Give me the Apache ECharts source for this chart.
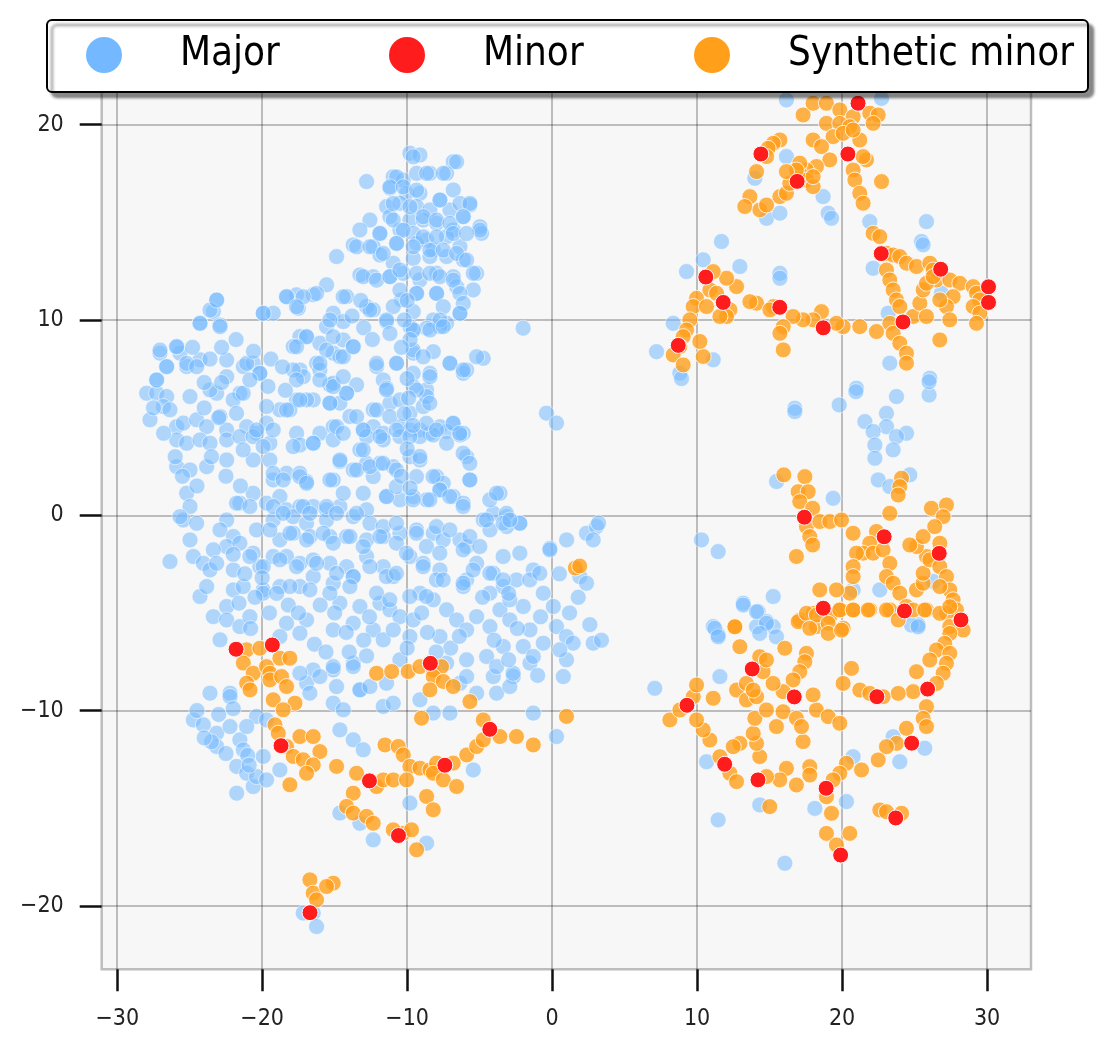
<!DOCTYPE html>
<html>
<head>
<meta charset="utf-8">
<script src="https://cdn.jsdelivr.net/npm/echarts@6/dist/echarts.min.js"></script>
<style>
  html, body { margin: 0; padding: 0; background: #fff; }
  #chart { width: 1108px; height: 1050px; }
</style>
</head>
<body>
<div id="chart"></div>
<script>
/** 类别名称 */
let seriesNames = ['Major', 'Minor', 'Synthetic minor'];
/** 图例颜色 */
let seriesColors = ['#74b9ff', '#ff1c1c', '#ff9f1a'];
/** 刻度 */
let xTicks = [-30, -20, -10, 0, 10, 20, 30];
let yTicks = [-20, -10, 0, 10, 20];

/** Major 点 */
let majorPts = [
  [-9.81,18.54],[-9.12,18.45],[-6.82,18.11],[-12.80,17.09],[-10.96,17.34],[-10.27,17.17],[-9.35,17.51],[-8.43,17.51],[-7.28,17.51],
  [-11.19,16.75],[-10.04,16.49],[-9.12,16.49],[-7.74,16.15],[-6.82,16.66],[-5.67,15.89],[-11.42,15.81],[-10.50,15.98],[-9.35,15.81],
  [-8.43,15.64],[-7.05,15.64],[-6.13,15.30],[-12.57,15.12],[-11.19,15.30],[-9.81,15.12],[-8.89,15.12],[-7.97,14.95],[-6.82,14.61],
  [-4.98,14.78],[-4.87,14.44],[-13.26,14.61],[-11.88,14.44],[-10.50,14.61],[-9.58,14.44],[-8.66,14.10],[-7.28,14.27],[-6.36,13.76],
  [-13.72,13.84],[-12.34,13.76],[-10.73,13.93],[-9.35,13.93],[-8.20,13.59],[-7.28,13.25],[-6.13,13.08],[-14.87,13.25],[-11.88,13.33],
  [-10.96,12.91],[-9.58,13.16],[-8.43,13.25],[-13.26,12.31],[-12.34,12.22],[-11.19,12.22],[-10.27,12.39],[-9.12,12.05],[-7.97,12.39],
  [-6.82,12.22],[-5.21,12.39],[-5.44,11.54],[-6.59,11.71],[-7.97,11.37],[-9.35,11.37],[-10.39,11.03],[-10.96,10.69],[-12.80,10.69],
  [-12.34,10.52],[-14.18,11.20],[-15.56,11.80],[-16.48,11.29],[-17.63,11.29],[-18.32,11.20],[-17.51,10.60],[-19.93,10.35],[-19.24,10.35],
  [-23.14,11.03],[-23.37,10.43],[-24.29,9.83],[-22.91,9.75],[-8.20,10.00],[-7.28,9.83],[-6.36,10.35],[-11.42,9.92],[-9.58,10.43],
  [-9.58,9.49],[-8.66,9.58],[-7.74,9.66],[-2.00,9.58],[-15.10,10.35],[-14.41,9.92],[-15.56,9.66],[-17.40,9.15],[-16.94,9.15],
  [-17.86,8.64],[-16.02,8.81],[-15.10,8.30],[-14.64,8.13],[-14.41,8.98],[-13.72,8.64],[-16.25,7.79],[-16.02,7.44],[-17.40,7.44],
  [-17.17,7.10],[-17.86,7.44],[-12.11,7.62],[-10.73,7.79],[-9.58,8.30],[-8.20,8.38],[-9.58,7.27],[-8.43,7.27],[-8.66,6.42],
  [-7.05,7.79],[-6.13,7.27],[-5.90,7.44],[-4.75,8.04],[-15.33,6.68],[-15.10,6.76],[-13.49,6.68],[-14.18,6.25],[-15.33,5.74],
  [-14.64,5.74],[-16.48,5.91],[-17.63,5.91],[-16.94,5.91],[-18.78,5.40],[-19.70,5.57],[-18.09,5.40],[-12.34,5.40],[-11.19,5.74],
  [-10.50,5.91],[-9.81,5.23],[-8.89,5.57],[-8.66,6.08],[-6.82,4.72],[-6.13,4.20],[-9.58,6.59],[-11.65,6.93],[-11.42,6.51],
  [-21.54,6.25],[-22.45,7.10],[-21.30,7.62],[-20.62,7.79],[-20.16,7.27],[-22.00,5.91],[-23.14,6.25],[-24.29,7.96],[-23.60,6.42],
  [-25.21,7.62],[-25.67,8.30],[-25.90,8.64],[-27.05,8.30],[-26.59,7.62],[-27.28,6.93],[-27.97,6.25],[-27.28,6.25],[-26.59,6.08],
  [-27.74,4.89],[-26.82,5.57],[-26.36,5.40],[-25.90,4.54],[-25.44,4.72],[-24.98,6.08],[-24.52,4.89],[-23.83,4.54],[-22.91,5.06],
  [-22.45,4.37],[-21.07,4.54],[-20.38,4.20],[-19.70,4.72],[-17.63,4.20],[-16.02,4.20],[-15.10,4.54],[-13.95,5.06],[-13.03,4.37],
  [-12.34,4.54],[-11.65,4.20],[-10.50,4.54],[-9.81,4.37],[-9.12,4.37],[-8.43,4.20],[-7.74,4.54],[-7.28,4.29],[-0.39,5.23],[0.30,4.72],
  [-25.90,3.86],[-25.21,3.69],[-24.29,3.86],[-23.60,3.69],[-22.45,3.86],[-21.54,4.03],[-20.62,4.03],[-19.47,3.69],[-17.40,3.60],
  [-16.48,3.69],[-15.10,3.86],[-12.80,4.03],[-11.65,3.86],[-10.50,4.03],[-9.12,4.03],[-8.20,4.11],[-7.28,3.69],[-6.36,4.11],
  [-25.90,2.49],[-24.98,2.32],[-23.83,2.49],[-22.45,2.83],[-20.62,2.83],[-19.47,2.83],[-14.64,2.75],[-13.26,3.35],[-12.80,2.66],
  [-11.88,2.66],[-10.96,2.49],[-9.81,3.00],[-9.12,2.83],[-7.97,1.98],[-7.51,1.64],[-5.90,3.00],[-5.67,1.81],[-19.24,1.81],
  [-18.32,2.15],[-17.40,2.15],[-16.94,1.73],[-15.10,1.81],[-13.72,2.32],[-12.34,1.98],[-11.42,0.96],[-10.50,0.79],[-9.58,0.96],
  [-8.66,0.79],[-7.74,1.30],[-6.82,0.96],[-6.13,0.62],[-3.60,1.13],[-2.23,-0.41],[-3.14,-0.07],[-4.06,0.10],[-4.75,-0.24],
  [-25.21,1.13],[-24.98,0.45],[-25.44,-0.24],[-24.52,-0.41],[-25.67,-0.07],[-21.54,0.62],[-20.62,1.13],[-19.70,0.62],[-18.78,0.96],
  [-18.32,0.28],[-17.40,0.45],[-16.48,0.45],[-15.56,0.28],[-14.64,0.45],[-13.72,-0.07],[-12.80,0.28],[-19.24,-0.24],[-17.86,-0.07],
  [-16.94,-0.41],[-15.56,-0.24],[-22.45,-0.24],[-22.91,-0.75],[-21.99,-1.09],[-22.45,-1.60],[-23.37,-1.77],[-24.98,-1.26],[-24.75,-2.11],
  [-24.06,-2.46],[-23.60,-2.80],[-23.14,-2.46],[-21.99,-2.80],[-26.36,-2.37],[-24.29,-4.16],[-23.83,-3.65],[-22.45,-4.67],[-21.99,-3.82],
  [-23.37,-5.19],[-22.45,-5.36],[-21.54,-5.70],[-22.91,-6.38],[-20.85,-5.19],[-20.39,-0.75],[-20.62,-1.94],[-20.16,-2.63],[-19.93,-3.82],
  [-18.78,-1.26],[-17.86,-0.92],[-16.71,-1.09],[-15.33,-1.09],[-14.18,-1.09],[-12.80,-1.26],[-11.65,-1.09],[-10.50,-0.92],[-9.35,-0.75],
  [-8.20,-0.92],[-7.51,-1.26],[-6.36,-1.26],[-5.90,-1.60],[-4.29,-0.75],[-3.14,-0.58],[-19.24,-2.11],[-18.32,-2.11],[-17.40,-2.46],
  [-16.48,-2.29],[-15.33,-2.46],[-14.18,-2.63],[-13.72,-3.14],[-12.80,-2.11],[-11.65,-2.63],[-10.96,-3.14],[-9.81,-2.11],[-8.89,-2.46],
  [-7.74,-2.80],[-5.90,-3.31],[-5.21,-2.46],[-4.06,-2.97],[-3.37,-3.65],[-2.46,-3.31],[-1.30,-2.80],[-0.15,-1.69],[1.00,-1.26],
  [2.37,-0.92],[3.06,-0.58],[2.83,-1.26],[1.91,-3.14],[2.37,-3.48],[-18.78,-3.65],[-17.40,-3.65],[-16.48,-3.14],[-15.10,-3.48],
  [-14.64,-4.50],[-13.26,-4.67],[-13.72,-5.53],[-15.10,-5.87],[-16.94,-5.36],[-18.32,-5.53],[-18.78,-6.21],[-17.40,-6.04],[-11.88,-4.50],
  [-11.19,-4.84],[-10.50,-5.19],[-12.34,-5.87],[-11.65,-6.38],[-10.96,-5.87],[-9.81,-6.21],[-9.12,-3.99],[-9.58,-5.36],[-8.20,-4.33],
  [-7.28,-4.84],[-6.59,-5.36],[-7.74,-6.21],[-6.13,-3.65],[-5.90,-5.87],[-5.21,-5.19],[-4.29,-5.70],[-3.60,-4.84],[-2.92,-5.36],
  [-1.99,-4.67],[-1.53,-5.87],[-0.61,-6.55],[-1.99,-6.72],[-3.37,-6.72],[-4.52,-7.23],[-5.90,-7.40],[-7.28,-7.57],[0.30,-5.70],
  [0.99,-6.21],[1.45,-6.55],[0.08,-4.67],[-0.61,-3.99],[2.83,-6.55],[0.77,-8.26],[-2.68,-8.26],[-4.06,-8.26],[-1.53,-7.57],
  [-16.48,-7.92],[-15.10,-7.92],[-13.72,-7.57],[-10.50,-7.40],[-11.42,-8.60],[-13.26,-8.94],[-14.87,-8.77],[-16.94,-8.60],[-23.60,-9.11],
  [-22.22,-9.11],[-22.22,-9.28],[-24.75,-10.48],[-24.06,-10.73],[-23.14,-11.16],[-23.14,-11.84],[-22.22,-10.82],[-21.54,-11.50],[-21.30,-12.01],
  [-21.76,-12.86],[-21.07,-13.21],[-21.76,-14.23],[-20.62,-13.89],[-20.39,-13.38],[-19.93,-12.35],[-19.70,-13.55],[-20.39,-10.30],[-21.07,-10.82],
  [-19.70,-10.48],[-18.78,-13.04],[-16.71,-9.11],[-17.40,-8.09],[-16.02,-8.26],[-15.10,-7.75],[-15.10,-9.62],[-14.41,-9.96],[-13.72,-7.75],
  [-13.26,-8.94],[-12.57,-8.77],[-11.65,-9.79],[-10.96,-9.62],[-14.64,-10.99],[-13.72,-11.50],[-13.03,-12.01],[-14.64,-15.25],[-13.26,-15.77],
  [-12.34,-16.62],[-9.81,-14.74],[-8.66,-16.79],[-9.12,-9.45],[-8.20,-10.13],[-7.05,-10.13],[-6.36,-8.60],[-5.90,-8.26],[-5.21,-9.11],
  [-3.83,-9.11],[-2.92,-8.77],[-2.69,-8.09],[-3.83,-7.75],[-1.30,-10.13],[0.30,-11.33],[0.99,-7.40],[0.53,-6.89],[-1.30,-7.23],
  [-5.44,-13.04],[-16.48,-20.37],[-16.25,-21.06],[-17.17,-20.37],[-24.5,-10.0],[-23.0,-10.2],[-22.0,-9.9],[-23.5,-11.6],[-24.0,-11.4],
  [-22.5,-12.2],[-21.0,-12.3],[-20.9,-12.8],
  // 中心密集区补充
  [-21.31,6.25],[-21.77,5.22],[-20.39,4.37],[-19.24,4.37],[-18.32,5.39],[-17.40,5.91],[-15.33,5.74],[-14.18,6.25],[-15.10,6.59],
  [-13.49,5.05],[-12.11,5.39],[-11.20,5.05],[-11.43,6.42],[-9.36,6.42],[-8.44,5.74],[-8.67,4.71],[-14.87,4.54],[-14.41,4.20],
  [-13.03,4.37],[-11.88,4.03],[-10.74,4.37],[-9.82,4.03],[-7.98,4.37],[-6.83,4.71],[-6.37,4.20],[-17.86,3.52],[-16.48,3.69],
  [-19.93,3.52],[-21.31,3.35],[-14.64,2.83],[-13.49,2.32],[-12.57,2.49],[-11.66,2.66],[-10.74,2.32],[-13.03,3.35],[-9.13,3.01],
  [-9.36,1.98],[-8.21,1.98],[-7.75,1.30],[-6.14,3.18],[-5.68,2.66],[-5.68,1.81],[-19.24,2.15],[-18.55,1.81],[-17.40,1.98],
  [-16.94,1.64],[-15.33,1.81],[-14.41,1.13],[-13.03,1.13],[-11.43,0.96],[-10.74,1.47],[-9.59,0.79],[-8.44,0.79],[-7.06,0.96],
  [-6.14,0.45],[-4.30,0.79],[-3.84,1.13],[-3.15,0.10],[-2.23,-0.41],[-21.77,0.62],[-20.85,0.45],[-19.24,0.45],[-18.55,0.10],
  [-17.17,0.45],[-16.71,0.10],[-15.56,0.45],[-14.87,0.10],[-13.49,0.10],[-12.57,-0.41],[-11.66,-0.58],[-10.74,-0.41],[-9.36,-0.92],
  [-7.98,-0.58],[-7.06,-0.75],[-5.68,-1.09],[-4.53,-0.24],[-3.38,-0.41],[-2.92,-0.24],[-19.47,-0.75],[-18.09,-0.92],[-16.94,-1.26],
  [-15.79,-0.92],[-15.10,-1.43],[-13.95,-1.09],[-13.03,-1.60],[-11.88,-1.09],[-10.74,-1.43],[-10.05,-1.94],[-8.67,-1.60],[-7.75,-1.94],
  [-6.14,-1.77],[-4.99,-1.60],[-3.38,-2.11],[-2.23,-1.94],[-0.16,-1.77],[-21.54,-1.43],[-20.85,-2.11],[-19.93,-2.63],[-18.78,-2.28],
  [-17.63,-2.63],[-16.25,-2.46],[-14.87,-2.97],[-13.72,-3.14],[-12.57,-2.63],[-11.43,-3.14],[-10.74,-2.97],[-8.90,-2.63],[-7.98,-3.31],
  [-6.14,-3.48],[-5.45,-2.80],[-4.30,-2.97],[-3.38,-3.31],[-1.54,-3.31],[-0.85,-2.97],[-21.31,-3.65],[-19.93,-3.99],[-18.09,-3.65],
  [-16.71,-3.82],[-15.33,-3.99],[-13.95,-3.65],[-12.11,-3.99],[-11.20,-4.33],[-9.82,-4.16],[-8.67,-4.16],[-7.52,-3.31],[-4.30,-3.99],
  [-2.92,-4.33],
  // 上部与左侧补充
  [-9.58,18.36],[-6.59,18.10],[-10.73,17.33],[-8.66,17.51],[-7.51,17.51],[-11.19,16.82],[-10.27,16.82],[-9.35,16.65],[-7.74,16.14],
  [-6.36,15.97],[-5.67,15.97],[-10.96,15.97],[-9.81,15.80],[-8.89,15.29],[-10.96,15.12],[-7.97,15.12],[-7.05,14.95],[-6.13,15.29],
  [-4.98,14.60],[-11.88,14.43],[-10.27,14.60],[-8.89,14.26],[-7.97,14.26],[-6.82,14.43],[-5.90,14.43],[-9.58,13.75],[-8.43,13.58],
  [-7.51,13.58],[-6.59,13.41],[-5.90,13.07],[-13.49,13.75],[-12.57,13.75],[-11.65,13.41],[-10.73,13.92],[-13.03,12.22],[-12.11,12.04],
  [-11.19,12.22],[-10.50,12.56],[-9.35,12.39],[-8.43,12.39],[-7.74,12.22],[-6.82,12.04],[-5.44,12.39],[-10.50,11.53],[-9.35,11.36],
  [-7.97,11.36],[-6.36,11.36],[-6.13,10.85],[-7.51,10.68],[-12.57,10.51],[-11.42,10.00],[-9.81,9.66],[-7.74,10.00],[-6.36,10.34],
  [-11.19,9.31],[-9.58,9.49],[-8.43,9.49],[-7.51,9.66],[-14.41,11.19],[-15.33,10.00],[-16.25,11.36],[-17.17,11.19],[-18.32,11.19],
  [-17.63,10.68],[-15.10,9.14],[-15.56,8.46],[-16.94,9.14],[-17.63,8.63],[-16.02,7.78],[-14.41,8.12],[-13.72,8.63],[-14.41,7.10],
  [-12.11,7.78],[-10.73,7.78],[-9.58,8.46],[-8.89,8.12],[-8.43,7.10],[-7.05,7.78],[-6.13,7.44],[-5.21,8.12],[-23.60,10.51],
  [-23.14,11.02],[-24.29,9.83],[-22.91,9.66],[-19.93,10.34],[-27.05,8.46],[-25.90,8.63],[-25.21,7.78],[-26.59,7.61],[-27.28,6.93],
  [-24.52,7.61],[-22.45,7.95],[-21.07,7.78],[-20.16,7.27],[-20.85,6.93],[-17.63,6.93],[-16.02,6.93],
  [-27.5,5.5],[-26.8,4.2],[-26.0,3.0],[-25.5,2.0],[-24.5,1.5],[-23.5,3.0],[-22.5,2.0],[-21.5,1.5],[-24.0,5.5],[-23.0,5.0],
  // 下部与边缘补充
  [-22.0,-2.0],[-21.2,-3.0],[-20.5,-4.2],[-19.5,-5.0],[-20.8,-5.8],[-19.0,-4.0],[-18.2,-4.6],[-17.5,-5.0],[-21.6,-4.5],[-20.0,-3.2],
  [-16.0,-4.6],[-15.0,-5.0],[-14.2,-6.0],[-13.0,-6.4],[-12.6,-5.2],[-16.4,-6.6],[-15.6,-7.0],[-14.0,-7.0],[-12.8,-7.2],
  [-9.0,-5.0],[-8.6,-6.0],[-7.0,-6.8],[-6.4,-6.2],[-8.0,-7.0],[-10.0,-6.8],
  [-4.8,-4.2],[-3.0,-4.0],[-2.4,-5.8],[-0.8,-5.2],[-4.0,-6.4],[-3.0,-7.4],[-1.0,-8.2],
  [1.2,-5.0],[1.8,-4.2],[2.6,-5.6],[0.5,-3.0],[3.4,-6.4],[3.2,-0.4],
  [-24.8,8.6],[-23.6,8.0],[-22.8,8.6],[-21.8,9.0],[-20.6,8.4],[-19.4,8.0],[-18.6,7.6],[-19.6,6.6],[-18.4,6.4],[-22.8,6.8],[-24.0,6.8],
  [-10.0,11.0],[-10.2,10.0],[-9.8,9.0],[-10.4,8.6],[-10.0,7.0],[-9.9,6.0],[-10.2,5.2],[-9.6,4.6],[-10.0,3.4],[-10.4,2.0],[-9.8,1.4],
  [-13.8,10.2],[-13.0,9.6],[-12.4,9.0],[-13.2,11.0],
  // 右侧
  [11.68,14.02],[9.27,12.48],[10.42,13.08],[12.95,12.74],[15.71,12.39],[15.71,12.14],[8.35,9.83],[7.20,8.38],[8.81,7.28],
  [11.11,7.96],[16.16,18.37],[13.98,17.26],[14.79,15.21],[15.71,15.47],[18.69,16.32],[19.04,15.47],[19.27,15.21],[21.91,15.04],
  [25.82,15.04],[25.48,14.02],[25.59,13.85],[22.14,12.65],[26.85,11.37],[23.18,10.35],[23.29,7.79],[26.05,7.02],[16.16,21.27],
  [22.72,21.35],[20.99,6.51],[8.92,7.0],[16.74,5.48],[16.74,5.31],[19.80,5.65],[20.95,6.33],[23.75,6.08],[26.00,6.16],
  [26.00,6.84],[21.57,4.80],[23.06,5.22],[23.06,4.54],[22.14,4.29],[24.44,4.20],[23.75,4.03],[22.26,3.60],[23.52,3.35],
  [22.26,2.92],[22.49,1.81],[24.67,2.07],[23.29,1.47],[19.38,0.87],[15.48,1.73],[10.30,-1.26],[11.45,-1.86],[20.76,-3.82],
  [13.18,-4.50],[15.25,-4.16],[14.21,-4.93],[14.79,-5.44],[11.11,-5.70],[11.45,-6.12],[14.10,-5.70],[15.25,-5.70],[22.60,-3.82],
  [25.25,-5.61],[26.28,-3.39],[7.08,-8.86],[11.22,-5.79],[11.45,-6.22],[13.18,-4.60],[14.10,-4.94],[14.78,-5.53],[15.47,-6.22],
  [14.32,-6.05],[11.57,-8.26],[10.65,-12.62],[11.45,-15.60],[14.32,-14.83],[18.12,-15.01],[20.30,-14.66],[16.05,-17.82],[20.76,-12.36],
  [23.52,-11.34],[23.98,-12.62],[25.70,-11.93],[24.78,-5.62],[25.24,-5.71]
];

/** Minor 点 */
let minorPts = [
  [21.1,21.1],[14.4,18.5],[20.4,18.5],[16.9,17.1],[22.7,13.4],[10.6,12.2],[11.8,10.9],[15.7,10.65],[18.7,9.6],
  [26.8,12.6],[30.1,11.7],[30.1,10.9],[24.2,9.9],[8.7,8.7],[17.4,-0.1],[22.9,-1.1],[26.7,-1.95],[18.7,-4.76],
  [24.3,-4.9],[28.2,-5.36],[13.8,-7.87],[16.7,-9.3],[22.4,-9.29],[25.9,-8.9],[9.3,-9.73],[24.8,-11.67],[11.9,-12.75],
  [14.2,-13.55],[18.9,-13.98],[23.7,-15.5],[19.9,-17.4],[-21.8,-6.86],[-19.3,-6.64],[-8.4,-7.58],[-18.7,-11.8],[-12.6,-13.6],
  [-7.4,-12.8],[-4.3,-10.96],[-10.6,-16.4],[-16.7,-20.35]
];

/** Synthetic minor 点 */
let synthPts = [
  [17.31,20.50],[18.00,21.10],[18.92,21.10],[19.84,20.76],[20.76,20.41],[21.91,20.59],[22.49,20.50],[22.14,20.07],[18.92,20.07],
  [19.84,20.07],[20.53,19.90],[21.22,19.22],[18.00,19.22],[19.38,19.39],[20.07,19.56],[20.76,19.73],[18.58,18.88],[19.15,18.20],
  [18.23,17.86],[17.54,17.68],[17.08,17.51],[15.71,19.22],[15.25,19.05],[14.90,18.79],[14.79,18.37],[14.10,17.60],[13.64,16.32],
  [13.29,15.81],[14.33,15.64],[14.79,15.89],[15.71,16.32],[16.16,16.49],[16.39,17.00],[17.54,17.17],[18.00,16.83],[18.00,17.34],
  [17.08,18.03],[16.85,17.68],[16.16,17.60],[21.68,18.20],[21.45,18.37],[20.76,17.68],[20.88,17.17],[21.22,16.49],[21.45,15.98],
  [22.72,17.09],[18.5,22.3],[19.5,22.6],[20.2,22.0],[19.0,23.0],[21.0,22.4],
  [22.14,14.44],[22.60,14.27],[23.06,13.42],[23.52,13.33],[23.98,13.25],[24.44,12.91],[25.13,12.74],[26.05,12.91],[26.28,12.56],
  [26.51,12.05],[27.43,12.05],[28.12,11.88],[29.04,11.71],[29.27,11.37],[29.50,11.03],[29.04,10.69],[29.50,10.35],[29.27,9.83],
  [27.66,11.20],[27.20,10.69],[27.43,10.01],[23.06,12.56],[23.29,12.05],[23.52,11.54],[23.75,11.03],[23.98,10.69],[23.29,9.83],
  [23.52,9.32],[23.98,8.81],[24.44,8.30],[24.44,7.79],[24.90,10.18],[25.36,10.86],[25.59,11.54],[25.82,11.88],[26.28,12.22],
  [25.82,10.18],[26.74,11.03],[26.74,8.98],[22.37,9.41],
  [21.22,9.66],[20.07,9.66],[19.61,9.83],[18.58,10.43],[18.00,10.01],[17.31,10.01],[16.62,10.18],[15.94,9.66],[15.71,9.32],
  [15.94,8.47],[15.25,10.69],[14.10,10.86],[13.64,10.94],[15.02,10.52],[12.26,10.52],[12.03,10.18],[12.72,11.71],[12.03,12.14],
  [11.11,12.48],[10.88,11.54],[11.34,11.37],[9.96,11.11],[9.73,10.69],[9.50,10.01],[9.27,9.49],[9.04,9.15],[8.81,8.64],
  [8.35,8.21],[9.04,7.70],[10.42,8.13],[10.19,8.90],[10.65,10.69],[11.57,10.18],
  [15.98,2.07],[17.43,1.98],[16.97,1.21],[17.66,1.21],[17.08,0.70],[17.97,0.36],[17.54,-0.58],[17.77,-1.09],[17.97,-1.52],
  [16.85,-2.11],[18.46,-0.32],[19.15,-0.32],[19.96,-0.24],[24.10,1.90],[23.98,1.47],[23.87,1.04],[23.29,0.10],[20.76,-0.92],
  [22.37,-0.83],[21.91,-1.43],[21.45,-1.94],[20.99,-1.94],[20.76,-2.63],[22.14,-1.94],[22.83,-1.77],[23.29,-2.46],[23.06,-3.14],
  [23.52,-3.48],[23.98,-3.99],[24.44,-4.67],[20.76,-3.14],[20.53,-3.99],[19.61,-3.82],[18.46,-3.82],[19.84,-4.84],[20.76,-4.84],
  [21.91,-4.84],[23.29,-4.84],[25.13,-3.82],[25.59,-3.48],[25.59,-2.97],[25.82,-2.11],[25.13,-1.60],[24.67,-1.52],[25.59,-1.09],
  [26.16,0.36],[27.20,0.53],[26.97,-0.07],[26.39,-0.58],[26.74,-1.43],[26.05,-2.28],[26.74,-2.63],[27.20,-3.14],[27.43,-3.82],
  [26.74,-3.65],[27.66,-4.33],[27.89,-4.84],[27.20,-5.02],[27.43,-5.70],[25.82,-4.84],[17.08,-5.36],[18.00,-5.02],[18.23,-5.70],
  [19.15,-5.19],[20.07,-5.78],[12.60,-5.70],
  [16.97,-5.45],[17.54,-5.02],[18.23,-5.11],[17.77,-5.79],[19.04,-5.53],[19.04,-6.05],[19.96,-5.88],[19.84,-4.85],[20.76,-4.85],
  [21.80,-4.85],[23.06,-4.85],[23.87,-5.36],[24.90,-4.85],[25.70,-4.85],[26.74,-5.02],[27.43,-4.68],[28.35,-5.88],[27.43,-6.05],
  [27.08,-6.56],[26.51,-6.90],[27.43,-7.07],[27.20,-7.58],[26.05,-7.41],[26.97,-8.09],[25.13,-8.01],[26.51,-8.61],[24.90,-9.03],
  [23.87,-9.12],[21.22,-8.95],[21.91,-9.12],[22.83,-9.29],[25.82,-9.80],[25.59,-10.40],[25.82,-10.82],[24.44,-10.91],[23.75,-11.68],
  [23.06,-11.85],[22.49,-12.53],[21.34,-13.04],[20.30,-12.70],[19.84,-13.21],[19.38,-13.55],[18.92,-14.41],[19.27,-15.26],[18.92,-16.29],
  [19.61,-16.88],[20.53,-16.29],[22.60,-15.09],[23.06,-15.18],[24.10,-15.26],[20.65,-7.84],[20.07,-8.61],[17.77,-12.87],[16.85,-13.81],
  [16.16,-12.96],[17.77,-13.30],[15.70,-13.55],[15.01,-14.92],[14.78,-13.38],[14.32,-12.36],[14.10,-11.68],[13.87,-11.17],[12.95,-11.68],
  [12.49,-11.85],[11.57,-12.36],[12.26,-13.21],[12.72,-13.64],[10.88,-11.51],[10.42,-10.99],[9.96,-10.48],[8.12,-10.48],[8.81,-9.97],
  [9.73,-9.29],[9.96,-8.69],[11.11,-9.37],[12.72,-8.95],[13.40,-9.46],[13.98,-10.40],[14.78,-9.97],[15.47,-10.82],[15.93,-10.06],
  [16.85,-10.40],[17.31,-11.59],[17.20,-10.82],[18.23,-9.97],[19.04,-10.31],[19.84,-10.65],[18.00,-9.20],[17.54,-7.07],[17.43,-7.50],
  [17.08,-8.01],[16.62,-8.43],[15.93,-9.03],[15.24,-8.61],[14.55,-8.01],[14.32,-7.24],[14.78,-7.41],[12.95,-6.73],[12.60,-5.71],
  [13.40,-8.61],[14.10,-9.29],[16.05,-6.81],[13.87,-8.95],
  [1.6,-2.7],[1.9,-2.6],
  [-21.07,-6.89],[-20.16,-6.81],[-21.30,-7.57],[-20.62,-8.09],[-21.07,-8.60],[-20.84,-8.94],[-19.70,-7.75],[-19.47,-8.09],[-19.47,-8.43],
  [-18.78,-7.32],[-18.09,-7.32],[-18.66,-8.26],[-18.32,-8.77],[-19.24,-9.45],[-17.74,-9.62],[-18.55,-9.96],[-19.12,-10.73],[-18.89,-11.16],
  [-18.32,-11.84],[-17.86,-12.35],[-17.40,-11.33],[-16.48,-11.33],[-16.02,-12.10],[-17.17,-12.52],[-16.48,-12.78],[-16.94,-13.21],[-18.09,-13.80],
  [-14.87,-12.86],[-12.11,-8.09],[-11.07,-8.00],[-9.93,-8.00],[-9.12,-7.75],[-8.20,-7.92],[-7.63,-7.75],[-8.20,-8.26],[-7.51,-8.51],
  [-8.43,-8.94],[-6.82,-8.77],[-5.67,-9.54],[-9.01,-10.39],[-11.53,-11.76],[-10.61,-11.84],[-10.27,-12.27],[-9.81,-12.86],[-9.12,-12.95],
  [-8.43,-13.04],[-7.97,-12.69],[-8.20,-13.21],[-7.51,-13.55],[-6.59,-13.89],[-8.66,-14.40],[-8.20,-15.08],[-6.82,-12.69],[-5.89,-12.27],
  [-5.21,-11.84],[-4.75,-11.50],[-3.60,-11.33],[-2.46,-11.33],[-1.30,-11.76],[-4.75,-10.48],[-13.49,-13.21],[-13.72,-14.23],[-14.18,-14.91],
  [-13.72,-15.25],[-12.80,-15.42],[-12.34,-15.77],[-12.11,-13.89],[-11.65,-13.55],[-10.96,-13.55],[-10.04,-13.55],[-10.27,-16.28],[-9.70,-16.11],
  [-9.35,-17.13],[-10.96,-16.11],[-16.71,-18.67],[-16.48,-19.35],[-16.25,-19.69],[-15.10,-18.84],[-15.56,-19.01],[0.99,-10.30]
];

let chartDom = document.getElementById('chart');
let chartIns = echarts.init(chartDom, null, { renderer: 'canvas' });

let fontName = "'DejaVu Sans Condensed', 'DejaVu Sans', sans-serif";
let minusFmt = function (v) { return String(v).replace('-', '\u2212'); };

/** 单独的图例 */
let legendLeft = [86, 389, 694];
let legends = seriesNames.map(function (name, i) {
  return {
    data: [{ name: name, itemStyle: { color: seriesColors[i], opacity: 1, borderWidth: 0 } }],
    left: legendLeft[i],
    top: 35,
    padding: 0,
    z: 20,
    icon: 'circle',
    itemWidth: 36,
    itemHeight: 36,
    selectedMode: false,
    textStyle: { color: '#000', fontSize: 40, fontFamily: fontName, padding: [0, 0, 0, 53] }
  };
});

let option = {
  animation: false,
  backgroundColor: '#fff',
  grid: {
    left: 101.7, right: 77, top: 23, bottom: 80.7,
    show: true,
    backgroundColor: '#f7f7f7',
    borderColor: '#bdbdbd',
    borderWidth: 2.5
  },
  xAxis: {
    type: 'value',
    min: -31.07, max: 33.03,
    axisLine: { show: false, onZero: false },
    axisTick: { show: true, length: 22, customValues: xTicks, lineStyle: { color: '#111', width: 2.5 } },
    axisLabel: { customValues: xTicks, margin: 38, fontSize: 23, color: '#222', fontFamily: fontName, formatter: minusFmt },
    splitLine: { show: true, lineStyle: { color: 'rgba(0,0,0,0.32)', width: 1.5 } }
  },
  yAxis: {
    type: 'value',
    min: -23.25, max: 25.21,
    axisLine: { show: false, onZero: false },
    axisTick: { show: true, length: 22, customValues: yTicks, lineStyle: { color: '#111', width: 2.5 } },
    axisLabel: { customValues: yTicks, margin: 38, fontSize: 23, color: '#222', fontFamily: fontName, formatter: minusFmt },
    splitLine: { show: true, lineStyle: { color: 'rgba(0,0,0,0.32)', width: 1.5 } }
  },
  legend: legends,
  graphic: [{
    type: 'rect',
    z: 10,
    shape: { x: 47, y: 20, width: 1041, height: 72, r: 5 },
    style: {
      fill: '#fff', stroke: '#000', lineWidth: 2,
      shadowColor: 'rgba(0,0,0,0.45)', shadowOffsetX: 5, shadowOffsetY: 5, shadowBlur: 3
    }
  }],
  series: [
    {
      name: 'Major', type: 'scatter', z: 2, symbolSize: 16, data: majorPts,
      itemStyle: { color: seriesColors[0], opacity: 0.55, borderColor: '#fff', borderWidth: 1 }
    },
    {
      name: 'Synthetic minor', type: 'scatter', z: 3, symbolSize: 16, data: synthPts,
      itemStyle: { color: seriesColors[2], opacity: 0.8, borderColor: '#fff', borderWidth: 1 }
    },
    {
      name: 'Minor', type: 'scatter', z: 4, symbolSize: 16, data: minorPts,
      itemStyle: { color: seriesColors[1], opacity: 1, borderColor: '#fff', borderWidth: 1 }
    }
  ]
};
chartIns.setOption(option);
</script>
</body>
</html>
